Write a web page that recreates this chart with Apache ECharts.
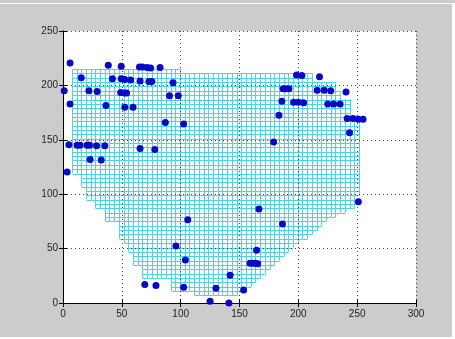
<!DOCTYPE html>
<html>
<head>
<meta charset="utf-8">
<script src="https://cdn.jsdelivr.net/npm/echarts@6/dist/echarts.min.js"></script>
<style>
  html, body { margin: 0; padding: 0; background: #cccccc; }
  #main { width: 455px; height: 339px; }
</style>
</head>
<body>
<div id="main"></div>
<script>
// scattered sample points (blue)
const pointX = [1, 6, 6, 15.5, 22, 29, 38.5, 42, 36.5, 49.5, 49.5, 52.5, 49, 52, 54, 52.5, 57.5, 59.5,
  65, 67.5, 71.5, 74.5, 82.5, 65.5, 73, 75.5, 93.5, 90.5, 98, 87, 102.5, 65.5, 78,
  5, 12, 14.5, 20.5, 22.5, 28.5, 35.5, 23, 32.5, 3.5,
  198.5, 203, 218, 187, 189, 192, 216, 222, 227.5, 240.5, 186, 196, 200, 204.5,
  225, 230, 235.5, 183.5, 241.5, 246.5, 251, 255, 243.5, 179, 251, 166.5, 186.5,
  106, 96, 104, 102.5, 69.5, 79, 164.5, 159, 161.5, 163.5, 165.5, 130, 142, 153.5, 125, 141]
const pointY = [195, 220.5, 183, 207, 195, 194.5, 218.5, 206, 181.5, 217.5, 206, 205.5, 193.5, 193, 193, 180, 205, 180,
  217, 217, 216.5, 216, 216.5, 204, 203.5, 203.5, 202.5, 190.5, 190.5, 166, 164.5, 142, 141,
  145.5, 145, 145, 145, 145, 144.5, 144.5, 132, 131.5, 120.5,
  209.5, 209, 208, 197, 197, 197, 195.5, 195.5, 195, 194, 185.5, 184.5, 184.5, 184,
  183, 183, 183, 172.5, 169.5, 169.5, 169, 169, 156.5, 148, 93, 86.5, 72.5,
  76.5, 52.5, 39.5, 14.5, 17, 16, 48.5, 36.5, 36.5, 36.5, 36, 13.5, 25.5, 12, 1.5, 0]

// highlighted point (red)
const markX = [21.5]
const markY = [147]

// mesh region: one entry per 4-unit column, starting at x = 7.5
const meshXStart = 7.5
const meshCell = 4
const meshBottom = [119, 119, 107, 95, 95, 87, 87, 75, 75, 75, 59, 55, 47, 35, 35, 23, 23, 23, 23, 23, 23,
  11, 11, 11, 11, 11, 7, 7, 7, 7, 7, 7, 7, 7, 7, 11, 15, 15, 19, 23, 27, 31, 35, 39, 43, 47, 51, 55,
  59, 59, 63, 67, 71, 75, 79, 79, 83, 83, 87, 87, 99]
const meshTop = [215, 215, 215, 215, 215, 215, 215, 215, 215, 215, 215, 215, 215, 215, 215, 215, 215, 215,
  215, 215, 215, 215, 215, 211, 211, 211, 211, 211, 211, 211, 211, 211, 211, 211, 211, 211, 211, 211,
  211, 211, 211, 211, 211, 211, 211, 211, 211, 211, 211, 211, 211, 203, 203, 203, 203, 203, 195, 187,
  187, 171, 171]

const meshData = meshBottom.map((b, i) => [meshXStart + i * meshCell, b, meshTop[i]])

const crisp = v => Math.round(v) + 0.5
const meshStyle = { stroke: '#4cd4e6', lineWidth: 1 }

function renderColumn(params, api) {
  const xl = api.value(0), b = api.value(1), t = api.value(2)
  const p0 = api.coord([xl, b])
  const p1 = api.coord([xl + meshCell, t])
  const x0 = crisp(p0[0]), x1 = crisp(p1[0])
  const children = [
    { type: 'line', shape: { x1: x0, y1: p0[1], x2: x0, y2: p1[1] }, style: meshStyle },
    { type: 'line', shape: { x1: x1, y1: p0[1], x2: x1, y2: p1[1] }, style: meshStyle }
  ]
  for (let y = b; y <= t; y += meshCell) {
    const py = crisp(api.coord([xl, y])[1])
    children.push({ type: 'line', shape: { x1: x0, y1: py, x2: x1, y2: py }, style: meshStyle })
  }
  return { type: 'group', children: children }
}

const chart = echarts.init(document.getElementById('main'))

const labelStyle = { color: '#222', fontSize: 10, fontFamily: 'Liberation Sans, Arial, sans-serif' }
const gridLine = { show: true, lineStyle: { color: '#444', type: [1, 3], width: 1 } }
const boxLine = { show: true, lineStyle: { color: '#000', width: 1 } }
const inTick = { show: true, inside: true, length: 4, lineStyle: { color: '#000' } }

const option = {
  animation: false,
  backgroundColor: '#cccccc',
  grid: { left: 63, top: 31, right: 39, bottom: 36, show: true, backgroundColor: '#ffffff', borderWidth: 0 },
  xAxis: [
    { type: 'value', min: 0, max: 300, interval: 50, position: 'bottom', z: 3,
      axisLine: boxLine, axisTick: inTick, splitLine: gridLine,
      axisLabel: Object.assign({ margin: 6 }, labelStyle) },
    { type: 'value', min: 0, max: 300, interval: 50, position: 'top', z: 3,
      axisLine: boxLine, axisTick: inTick, splitLine: { show: false }, axisLabel: { show: false } }
  ],
  yAxis: [
    { type: 'value', min: 0, max: 250, interval: 50, position: 'left', z: 3,
      axisLine: boxLine, axisTick: inTick, splitLine: gridLine,
      axisLabel: Object.assign({ margin: 5 }, labelStyle) },
    { type: 'value', min: 0, max: 250, interval: 50, position: 'right', z: 3,
      axisLine: boxLine, axisTick: inTick, splitLine: { show: false }, axisLabel: { show: false } }
  ],
  graphic: [
    { type: 'rect', shape: { x: 0, y: 3, width: 452, height: 1 }, style: { fill: '#ffffff' } },
    { type: 'rect', shape: { x: 452, y: 3, width: 3, height: 336 }, style: { fill: '#ffffff' } },
    { type: 'rect', shape: { x: 0, y: 337, width: 455, height: 2 }, style: { fill: '#ffffff' } }
  ],
  series: [
    {
      type: 'custom',
      z: 1,
      renderItem: renderColumn,
      encode: { x: 0, y: [1, 2] },
      data: meshData,
      silent: true
    },
    {
      type: 'scatter',
      z: 5,
      symbol: 'circle',
      symbolSize: 7,
      itemStyle: { color: '#0808c8', opacity: 1 },
      data: pointX.map((x, i) => [x, pointY[i]])
    },
    {
      type: 'scatter',
      z: 4,
      symbol: 'path://M4,0h1v4h4v1h-4v4h-1v-4h-4v-1h4z',
      symbolSize: 9,
      itemStyle: { color: '#ff3030', opacity: 0.8 },
      data: markX.map((x, i) => [x, markY[i]])
    }
  ]
}

option && chart.setOption(option)
</script>
</body>
</html>
